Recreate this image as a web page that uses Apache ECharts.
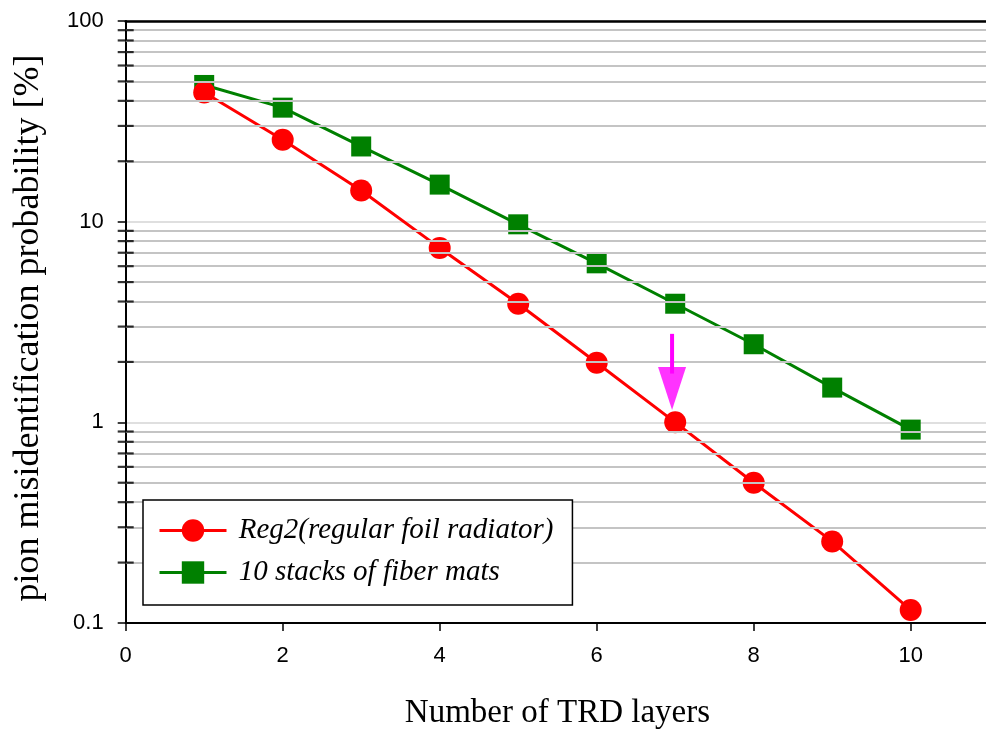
<!DOCTYPE html>
<html>
<head>
<meta charset="utf-8">
<script src="https://cdn.jsdelivr.net/npm/echarts@6/dist/echarts.min.js"></script>
<style>html,body{margin:0;padding:0;background:#fff;}#c{width:986px;height:729px;}</style>
</head>
<body>
<div id="c"></div>
<script>
var layers = [1, 2, 3, 4, 5, 6, 7, 8, 9, 10];
var reg2Values = [44, 25.6, 14.3, 7.4, 3.9, 1.98, 1.0, 0.50, 0.255, 0.116];
var fiberValues = [48, 37, 23.7, 15.3, 9.7, 6.2, 3.9, 2.45, 1.49, 0.92];
var reg2Name = 'Reg2(regular foil radiator)';
var fiberName = '10 stacks of fiber mats';
var xTickLabels = ['0', '2', '4', '6', '8', '10'];
var yTickLabels = ['0.1', '1', '10', '100'];
var minorValues = [0.2,0.3,0.4,0.5,0.6,0.7,0.8,0.9,2,3,4,5,6,7,8,9,20,30,40,50,60,70,80,90];
var arrowStem = [[6.96, 2.76], [6.96, 1.75]];
var arrowHead = [[6.96, 1.475]];

var chart = echarts.init(document.getElementById('c'), null, {renderer: 'canvas'});
var option = {
  backgroundColor: '#ffffff',
  animation: false,
  grid: {left: 125.7, top: 21, width: 863.5, height: 602, containLabel: false, outerBoundsMode: 'none'},
  legend: {
    orient: 'vertical',
    left: 143, top: 500, z: 20,
    padding: [16, 19, 18, 15],
    itemGap: 13,
    itemWidth: 67, itemHeight: 28,
    backgroundColor: '#ffffff',
    borderColor: '#000000', borderWidth: 1.5,
    data: [reg2Name, fiberName],
    lineStyle: {width: 3},
    formatter: function (n) { return ' ' + n; },
    textStyle: {fontFamily: 'Liberation Serif', fontStyle: 'italic', fontSize: 29, color: '#000'}
  },
  xAxis: [{
    type: 'value', min: 0, max: 11, interval: 2,
    name: 'Number of TRD layers', nameLocation: 'middle', nameGap: 74,
    nameTextStyle: {fontFamily: 'Liberation Serif', fontSize: 33, color: '#000'},
    axisLine: {lineStyle: {color: '#000', width: 2}},
    axisTick: {show: true, length: 8, inside: false, lineStyle: {color: '#000', width: 1.5}},
    axisLabel: {margin: 22, fontFamily: 'Liberation Sans', fontSize: 22, color: '#000',
      formatter: function (v) { var s = String(v); return xTickLabels.indexOf(s) >= 0 ? s : ''; }},
    splitLine: {show: false}
  }, {
    type: 'value', min: 0, max: 11, position: 'top',
    axisLine: {show: true, onZero: false, lineStyle: {color: '#000', width: 2.5}},
    axisTick: {show: false}, axisLabel: {show: false}, splitLine: {show: false}
  }],
  yAxis: {
    type: 'log', logBase: 10, min: 0.1, max: 100,
    name: 'pion misidentification probability [%]', nameLocation: 'middle', nameGap: 79,
    nameTextStyle: {fontFamily: 'Liberation Serif', fontSize: 36, color: '#000', padding: [0, 12, 0, 0]},
    axisLine: {show: true, lineStyle: {color: '#000', width: 2}},
    axisTick: {show: true, length: 8, lineStyle: {color: '#000', width: 1.5}},
    axisLabel: {margin: 22, fontFamily: 'Liberation Sans', fontSize: 22, color: '#000',
      formatter: function (v) { var s = String(+v.toPrecision(3)); return yTickLabels.indexOf(s) >= 0 ? s : ''; }},
    splitLine: {show: true, lineStyle: {color: '#d4d4d4', width: 1.5}}
  },
  series: [
    {
      type: 'line', name: 'grid', data: [], z: 0, silent: true,
      markLine: {
        silent: true, symbol: ['none', 'none'], label: {show: false},
        lineStyle: {color: '#c4c4c4', width: 2, type: 'solid'},
        data: minorValues.map(function (v) { return {yAxis: v}; })
      }
    },
    {
      type: 'scatter', name: 'minorTicks', silent: true, clip: false, z: 6,
      symbol: 'rect', symbolSize: [16, 2.2],
      itemStyle: {color: '#000'},
      data: minorValues.map(function (v) { return [0, v]; })
    },
    {
      type: 'line', name: reg2Name, z: 4,
      data: layers.map(function (x, i) { return [x, reg2Values[i]]; }),
      symbol: 'circle', symbolSize: 22, showSymbol: true,
      lineStyle: {color: '#ff0000', width: 3},
      itemStyle: {color: '#ff0000'}
    },
    {
      type: 'line', name: fiberName, z: 3,
      data: layers.map(function (x, i) { return [x, fiberValues[i]]; }),
      symbol: 'rect', symbolSize: 20, showSymbol: true,
      lineStyle: {color: '#008000', width: 3},
      itemStyle: {color: '#008000'}
    },
    {
      type: 'line', name: 'arrowStem', z: 5, silent: true,
      data: arrowStem, symbol: 'none',
      lineStyle: {color: '#ff00ff', width: 4}
    },
    {
      type: 'scatter', name: 'arrowHead', z: 5, silent: true,
      data: arrowHead, symbol: 'triangle', symbolRotate: 180, symbolSize: [28, 43],
      itemStyle: {color: '#ff00ff'}
    }
  ]
};
chart.setOption(option);
</script>
</body>
</html>
